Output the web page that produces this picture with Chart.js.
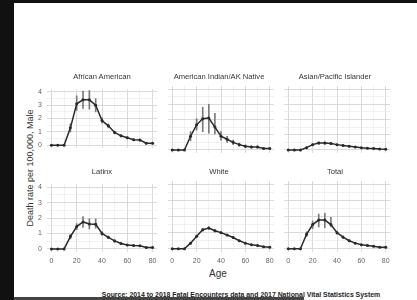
<!DOCTYPE html>
<html><head><meta charset="utf-8">
<script src="https://cdn.jsdelivr.net/npm/chart.js@4/dist/chart.umd.min.js"></script>
<style>
html,body{margin:0;padding:0;background:#fff;width:417px;height:300px;overflow:hidden;font-family:"Liberation Sans",Arial,sans-serif;}
#wrap{position:relative;width:417px;height:300px;}
canvas{position:absolute;}
.t{position:absolute;white-space:nowrap;color:#1a1a1a;opacity:0.99;}
.frame{position:absolute;background:#111;}
</style></head><body>
<div id="wrap">
  <div class="frame" style="left:0;top:0;width:417px;height:3px;"></div>
  <div class="frame" style="left:0;top:0;width:14px;height:300px;"></div>
  <div class="frame" style="left:14px;top:297px;width:290px;height:3px;background:#444;"></div>
  <div class="t" id="ytitle" style="left:30px;top:168px;font-size:9px;color:#333;transform:translate(-50%,-50%) rotate(-90deg);">Death rate per 100,000, Male</div>
  <div class="t" style="left:218px;top:273px;font-size:10px;color:#333;transform:translate(-50%,-50%);">Age</div>
  <div class="t" style="left:241px;top:294px;font-size:6.9px;font-weight:bold;color:#222;transform:translate(-50%,-50%);">Source: 2014 to 2018 Fatal Encounters data and 2017 National Vital Statistics System</div>
</div>
<script>
const ages = [0,5,10,15,20,25,30,35,40,45,50,55,60,65,70,75,80];
const panelTitles = ["African American","American Indian/AK Native","Asian/Pacific Islander","Latinx","White","Total"];
const xTickLabels = ["0","20","40","60","80"];
const yTickLabels = ["0","1","2","3","4"];

const africanAmerican     = [0,0,0,1.3,3.1,3.4,3.4,3.0,1.85,1.45,0.95,0.7,0.55,0.4,0.38,0.15,0.15];
const africanAmericanLow  = [0,0,0,1.0,2.6,2.75,2.7,2.5,1.65,1.3,0.85,0.62,0.48,0.33,0.3,0.1,0.1];
const africanAmericanHigh = [0,0,0,1.6,3.7,4.05,4.1,3.5,2.05,1.6,1.05,0.78,0.62,0.47,0.46,0.2,0.2];

const amIndianAK     = [0,0,0,0.9,1.65,2.05,2.1,1.5,0.9,0.7,0.5,0.35,0.25,0.2,0.2,0.1,0.1];
const amIndianAKLow  = [0,0,0,0.6,1.3,1.2,1.1,1.05,0.65,0.5,0.35,0.25,0.17,0.13,0.13,0.06,0.06];
const amIndianAKHigh = [0,0,0,1.2,2.05,2.8,3.0,2.4,1.2,0.9,0.65,0.45,0.33,0.27,0.27,0.14,0.14];

const asianPI     = [0,0,0,0.15,0.35,0.45,0.45,0.42,0.35,0.3,0.25,0.2,0.15,0.12,0.1,0.06,0.05];
const asianPILow  = [0,0,0,0.1,0.28,0.37,0.37,0.35,0.3,0.26,0.21,0.17,0.12,0.09,0.08,0.04,0.03];
const asianPIHigh = [0,0,0,0.2,0.42,0.53,0.53,0.49,0.4,0.34,0.29,0.23,0.18,0.15,0.12,0.08,0.07];

const latinx     = [0,0,0,0.8,1.45,1.75,1.62,1.6,1.0,0.75,0.52,0.35,0.25,0.22,0.2,0.1,0.1];
const latinxLow  = [0,0,0,0.65,1.25,1.4,1.3,1.35,0.88,0.66,0.45,0.3,0.21,0.18,0.16,0.07,0.07];
const latinxHigh = [0,0,0,0.95,1.65,2.1,1.95,1.95,1.12,0.84,0.6,0.4,0.29,0.26,0.24,0.13,0.13];

const white     = [0,0,0,0.35,0.78,1.18,1.28,1.12,1.0,0.85,0.7,0.5,0.35,0.25,0.2,0.12,0.1];
const whiteLow  = [0,0,0,0.3,0.72,1.1,1.2,1.05,0.94,0.8,0.65,0.46,0.31,0.22,0.17,0.09,0.07];
const whiteHigh = [0,0,0,0.4,0.84,1.26,1.36,1.19,1.06,0.9,0.75,0.54,0.39,0.28,0.23,0.15,0.13];

const total     = [0,0,0,0.9,1.5,1.78,1.78,1.5,1.0,0.72,0.5,0.35,0.25,0.2,0.15,0.1,0.1];
const totalLow  = [0,0,0,0.75,1.25,1.35,1.3,1.35,0.9,0.65,0.45,0.31,0.22,0.17,0.12,0.07,0.07];
const totalHigh = [0,0,0,1.05,1.72,2.15,2.2,1.95,1.1,0.8,0.55,0.4,0.28,0.23,0.18,0.13,0.13];

const series = [
  [africanAmerican, africanAmericanLow, africanAmericanHigh],
  [amIndianAK, amIndianAKLow, amIndianAKHigh],
  [asianPI, asianPILow, asianPIHigh],
  [latinx, latinxLow, latinxHigh],
  [white, whiteLow, whiteHigh],
  [total, totalLow, totalHigh]
];

const colLeft = [47, 164, 280], plotW = 110;
const rowTop = [86, 181], plotH = 71;
const padL = 22, padT = 6, padR = 8, padB = 16;
const FONT = '"Liberation Sans", Arial, sans-serif';
const wrap = document.getElementById('wrap');

series.forEach((s, i) => {
  const col = i % 3, row = Math.floor(i / 3);
  const showY = col === 0, showX = row === 1;
  const L = showY ? padL : 0;
  const B = showX ? padB : 0;
  const cv = document.createElement('canvas');
  const w = plotW + L + padR, h = plotH + padT + B;
  cv.width = w; cv.height = h;
  cv.style.left = (colLeft[col] - L) + 'px';
  cv.style.top = (rowTop[row] - padT) + 'px';
  cv.style.width = w + 'px'; cv.style.height = h + 'px';
  wrap.appendChild(cv);

  const title = document.createElement('div');
  title.className = 't';
  title.textContent = panelTitles[i];
  title.style.cssText += `left:${colLeft[col] + plotW/2}px;top:${rowTop[row] - 10}px;font-size:7.6px;color:#333;transform:translate(-50%,-50%);`;
  wrap.appendChild(title);

  const lineData = ages.map((a, k) => ({x: a, y: s[0][k]}));
  const barData = ages.map((a, k) => ({x: a, y: [s[1][k], s[2][k]]}));

  new Chart(cv, {
    type: 'line',
    data: {
      datasets: [
        {type: 'line', data: lineData, borderColor: '#2a2a2a', borderWidth: 1.5,
         pointRadius: 1.5, pointBackgroundColor: '#2a2a2a', pointBorderWidth: 0, tension: 0, order: 1},
        {type: 'bar', data: barData, backgroundColor: '#7a7a7a', barThickness: 1, borderWidth: 0, order: 2}
      ]
    },
    options: {
      responsive: false, animation: false, devicePixelRatio: 1,
      layout: {padding: {top: padT, right: padR, left: 0, bottom: 0}},
      plugins: {legend: {display: false}, tooltip: {enabled: false}},
      scales: {
        x: {
          type: 'linear', min: -3.5, max: 83.5, offset: false,
          border: {display: false},
          grid: {offset: false, drawTicks: false,
            color: c => (c.tick && c.tick.value % 20 === 0) ? '#d6d6d6' : '#e8e8e8',
            lineWidth: c => (c.tick && c.tick.value % 20 === 0) ? 0.9 : 0.6},
          ticks: {display: showX, stepSize: 10, autoSkip: false, maxRotation: 0, includeBounds: false,
            padding: 5, color: '#666', font: {family: FONT, size: 7},
            callback: v => (v % 20 === 0) ? xTickLabels[v / 20] : ''},
          afterFit: sc => { sc.height = B; }
        },
        y: {
          type: 'linear', min: -0.2, max: 4.2,
          border: {display: false},
          grid: {drawTicks: false,
            color: c => (c.tick && Number.isInteger(c.tick.value)) ? '#d6d6d6' : '#e8e8e8',
            lineWidth: c => (c.tick && Number.isInteger(c.tick.value)) ? 0.9 : 0.6},
          ticks: {display: showY, stepSize: 0.5, autoSkip: false, includeBounds: false,
            padding: 5, color: '#666', font: {family: FONT, size: 7},
            callback: v => Number.isInteger(v) ? yTickLabels[v] : ''},
          afterFit: sc => { sc.width = L; }
        }
      }
    }
  });
});
</script>
</body></html>
